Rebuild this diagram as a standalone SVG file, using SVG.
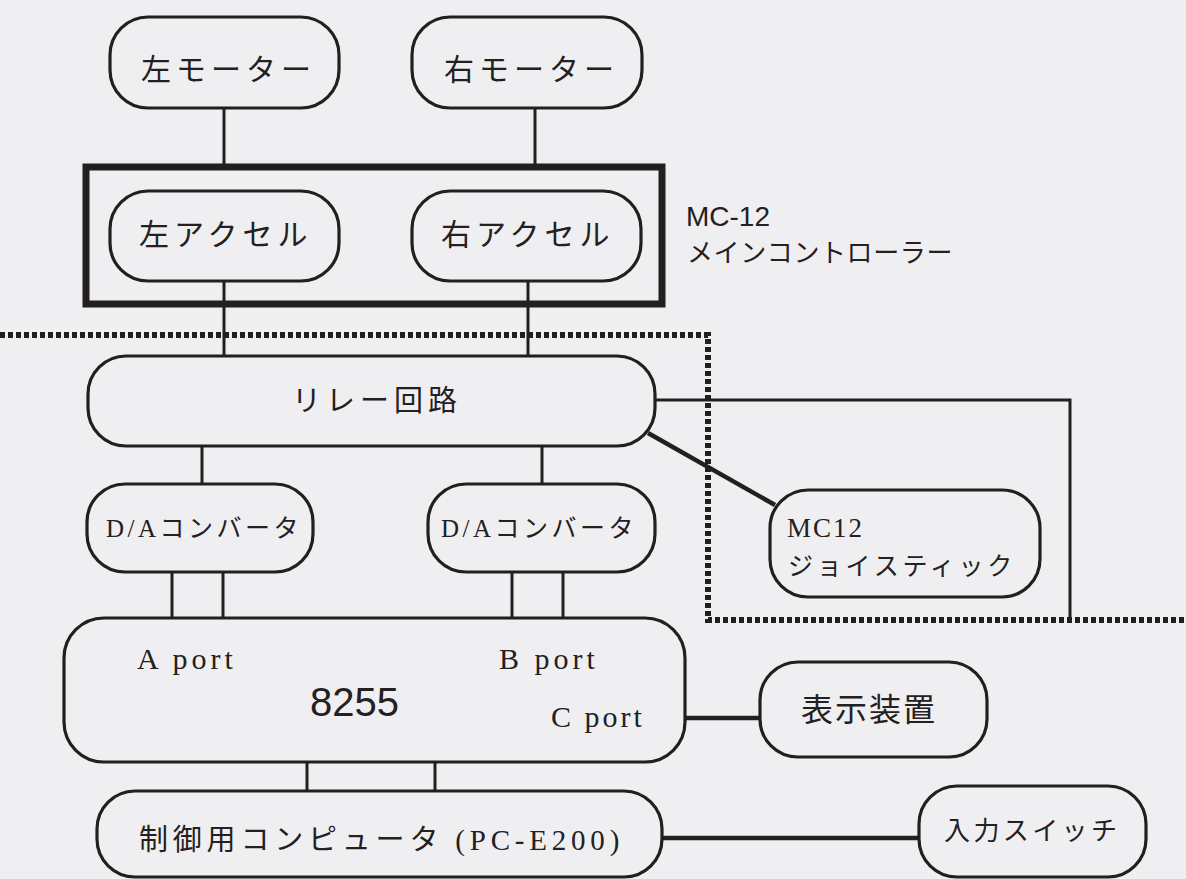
<svg xmlns="http://www.w3.org/2000/svg" width="1186" height="879" viewBox="0 0 1186 879">
<style>
.bg{fill:#efeff1}
.box{fill:none;stroke:#231f20;stroke-width:3.2}
.thick{fill:none;stroke:#231f20;stroke-width:7}
.ln{fill:none;stroke:#231f20;stroke-width:3}
.ln4{fill:none;stroke:#231f20;stroke-width:4.5}
.dot{fill:none;stroke:#231f20;stroke-width:6;stroke-dasharray:5 3}
.jp{font-family:"Noto Sans CJK JP",sans-serif;fill:#242021}
.sr{font-family:"Liberation Serif","Noto Sans CJK JP",serif;fill:#242021}
.sn{font-family:"Liberation Sans","Noto Sans CJK JP",sans-serif;fill:#242021}
</style>
<rect class="bg" x="0" y="0" width="1186" height="879"/>
<g id="connectors">
<line class="ln" x1="224" y1="108" x2="224" y2="167"/>
<line class="ln" x1="535" y1="108" x2="535" y2="167"/>
<line class="ln" x1="224" y1="281" x2="224" y2="356"/>
<line class="ln" x1="528" y1="281" x2="528" y2="356"/>
<line class="ln" x1="202" y1="446" x2="202" y2="484"/>
<line class="ln" x1="542" y1="446" x2="542" y2="484"/>
<polyline class="ln" points="655,400 1070,400 1070,620"/>
<line class="ln4" x1="648" y1="433" x2="775" y2="505"/>
<line class="ln" x1="172" y1="572" x2="172" y2="618"/>
<line class="ln" x1="223" y1="572" x2="223" y2="618"/>
<line class="ln" x1="512" y1="572" x2="512" y2="618"/>
<line class="ln" x1="563" y1="572" x2="563" y2="618"/>
<line class="ln4" x1="685" y1="718" x2="760" y2="718"/>
<line class="ln" x1="307" y1="762" x2="307" y2="791"/>
<line class="ln" x1="435" y1="762" x2="435" y2="791"/>
<line class="ln4" x1="662" y1="838" x2="919" y2="838"/>
<polyline class="dot" points="0,335 708,335 708,620 1186,620"/>
</g>
<g id="mc12-main">
<rect class="thick" x="86" y="167" width="576" height="137"/>
<text class="sn" x="686" y="226" font-size="28">MC-12</text>
<text class="jp" x="687" y="262" font-size="26" letter-spacing="0.6">メインコントローラー</text>
</g>
<g id="left-motor">
<rect class="box" x="110" y="17" width="229" height="91" rx="38"/>
<text class="jp" x="141" y="80" font-size="30" letter-spacing="5">左モーター</text>
</g>
<g id="right-motor">
<rect class="box" x="412" y="17" width="230" height="91" rx="38"/>
<text class="jp" x="444" y="80" font-size="30" letter-spacing="5">右モーター</text>
</g>
<g id="left-accel">
<rect class="box" x="110" y="191" width="229" height="90" rx="38"/>
<text class="jp" x="139" y="245" font-size="30" letter-spacing="5">左アクセル</text>
</g>
<g id="right-accel">
<rect class="box" x="412" y="191" width="229" height="90" rx="38"/>
<text class="jp" x="441" y="245" font-size="30" letter-spacing="5">右アクセル</text>
</g>
<g id="relay">
<rect class="box" x="88" y="356" width="567" height="90" rx="38"/>
<text class="jp" x="292" y="411" font-size="29" letter-spacing="5">リレー回路</text>
</g>
<g id="da1">
<rect class="box" x="87" y="484" width="226" height="88" rx="38"/>
<text class="sr" x="106" y="537" font-size="25" letter-spacing="3.5">D/Aコンバータ</text>
</g>
<g id="da2">
<rect class="box" x="428" y="484" width="227" height="88" rx="38"/>
<text class="sr" x="441" y="537" font-size="25" letter-spacing="3.5">D/Aコンバータ</text>
</g>
<g id="joystick">
<rect class="box" x="770" y="490" width="270" height="107" rx="38"/>
<text class="sr" x="787" y="537" font-size="27" letter-spacing="2">MC12</text>
<text class="jp" x="788" y="575" font-size="25" letter-spacing="3.8">ジョイスティック</text>
</g>
<g id="ppi8255">
<rect class="box" x="64" y="618" width="621" height="144" rx="40"/>
<text class="sr" x="137" y="669" font-size="30" letter-spacing="4">A port</text>
<text class="sr" x="499" y="669" font-size="30" letter-spacing="4">B port</text>
<text class="sr" x="551" y="727" font-size="30" letter-spacing="3">C port</text>
<text class="sn" x="310" y="716" font-size="40">8255</text>
</g>
<g id="display">
<rect class="box" x="760" y="662" width="227" height="95" rx="38"/>
<text class="jp" x="801" y="721" font-size="32" letter-spacing="2">表示装置</text>
</g>
<g id="computer">
<rect class="box" x="97" y="791" width="565" height="86" rx="38"/>
<text class="sr" x="139" y="850" font-size="29" letter-spacing="4.8">制御用コンピュータ (PC-E200)</text>
</g>
<g id="input-switch">
<rect class="box" x="919" y="786" width="227" height="91" rx="38"/>
<text class="jp" x="944" y="840" font-size="26" letter-spacing="3.4">入力スイッチ</text>
</g>
</svg>
